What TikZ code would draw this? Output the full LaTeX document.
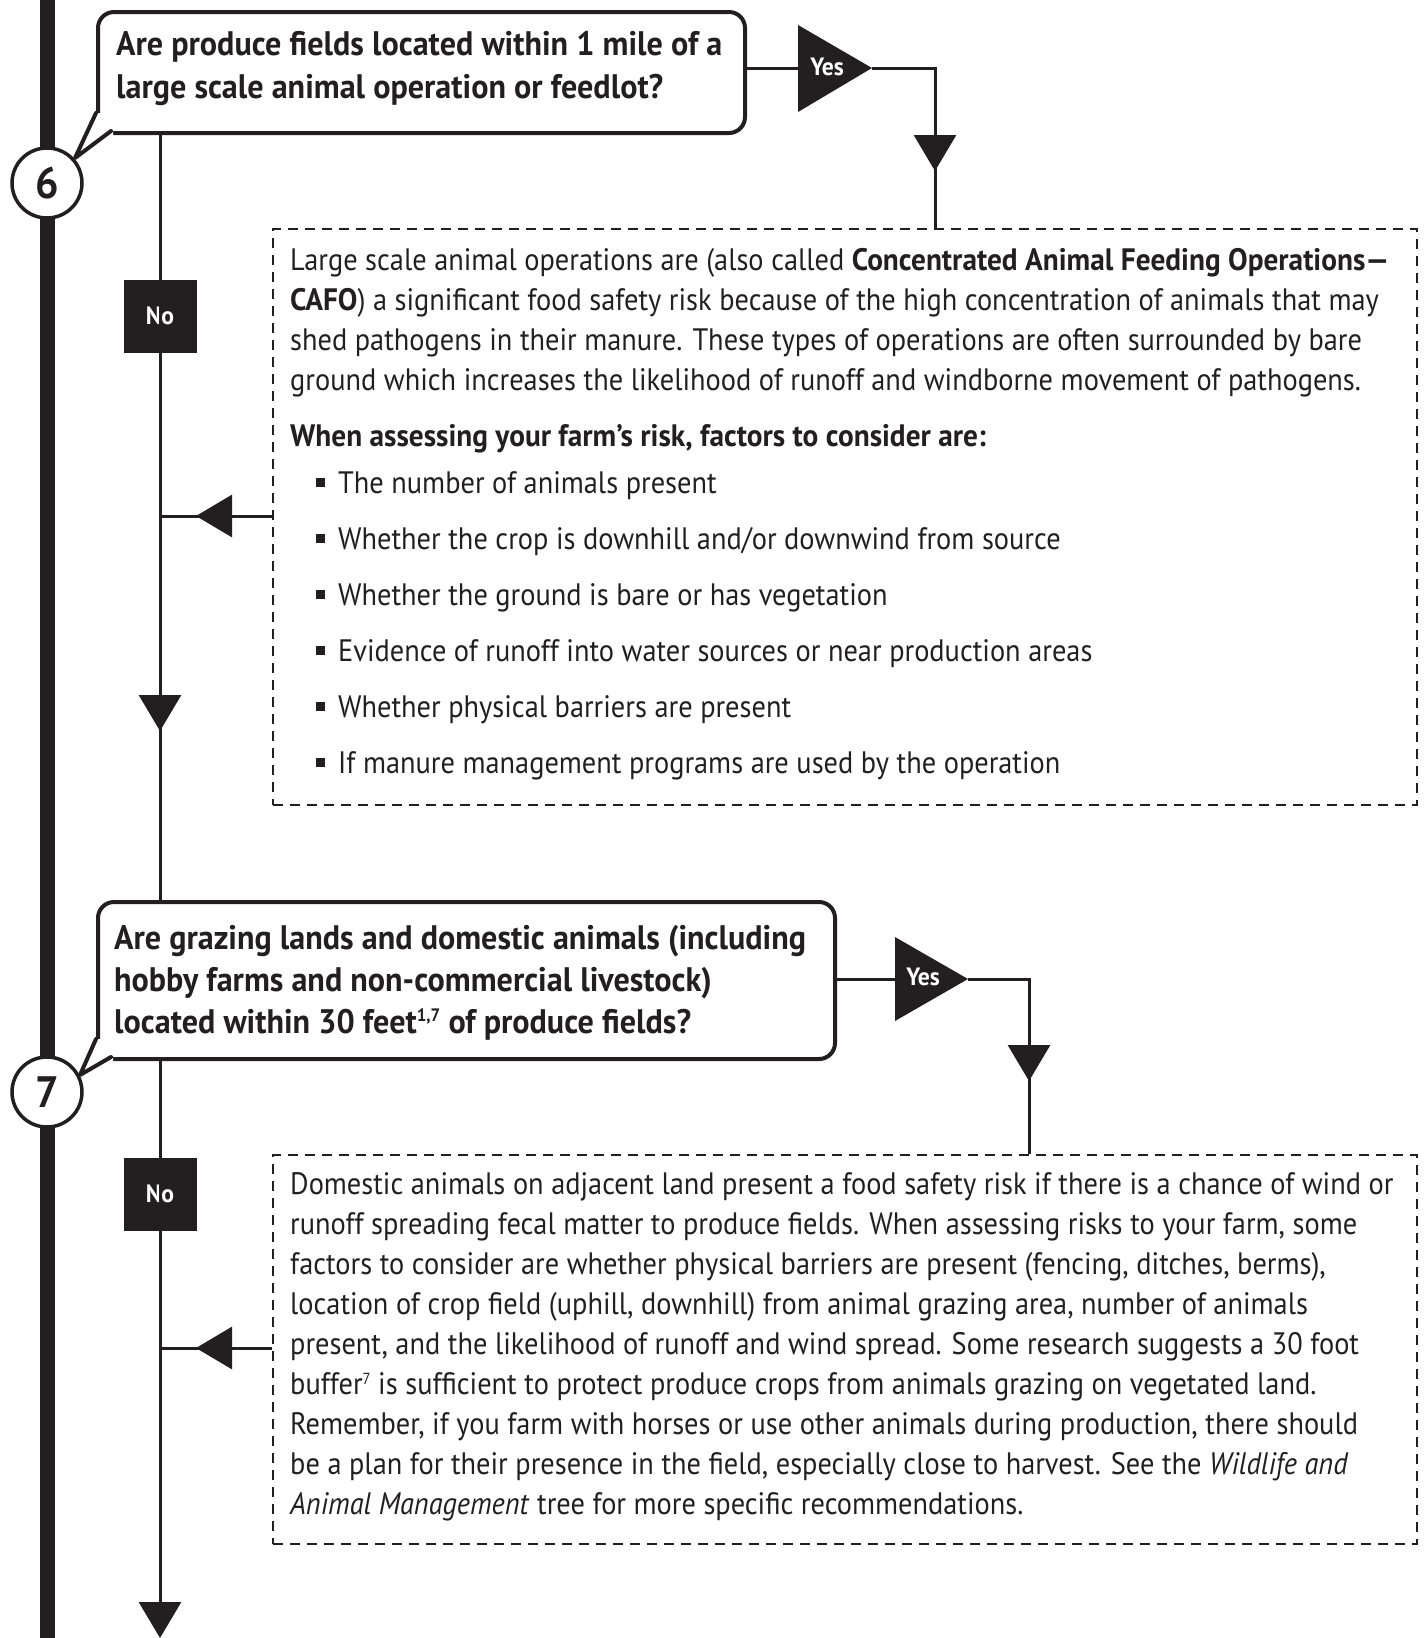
\documentclass[tikz,border=0pt]{standalone}
\usepackage{fontspec}
\setmainfont{PT Sans}[FakeStretch=0.915, BoldFeatures={FakeStretch=0.945}]
\usepackage{xcolor}
\usetikzlibrary{arrows.meta}
\definecolor{ink}{HTML}{231F20}

\begin{document}
\begin{tikzpicture}[x=1pt,y=-1pt,
  conn/.style={draw=ink, line width=3pt},
  tri/.style={draw=ink, line width=3pt, -{Triangle[length=36pt,width=42pt]}},
  qbox/.style={draw=ink, fill=white, line width=4pt, rounded corners=16pt, anchor=north west, inner sep=0},
  qtext/.style={text=ink, font=\bfseries\fontsize{34}{43}\selectfont, anchor=base west, inner sep=0},
  body/.style={text=ink, font=\fontsize{31}{40}\selectfont, anchor=base west, inner sep=0},
  stepnum/.style={circle, draw=ink, fill=white, line width=3.5pt, minimum size=70pt, inner sep=0, text=ink, font=\bfseries\fontsize{44}{44}\selectfont},
  nobox/.style={fill=ink, text=white, minimum size=73pt, inner sep=0, font=\bfseries\fontsize{25}{25}\selectfont},
  yeslbl/.style={text=white, inner sep=0, font=\bfseries\fontsize{25}{25}\selectfont},
  dashbox/.style={draw=ink, line width=2pt, dash pattern=on 10pt off 7pt, anchor=north west, inner sep=0}]

  \useasboundingbox (0,0) rectangle (1426,1638);

  % side bar
  \fill[ink] (40,0) rectangle (55,1638);

  % dashed text boxes
  \node[dashbox, minimum width=1144pt, minimum height=576pt] (cafo) at (272,228) {};
  \node[dashbox, minimum width=1144pt, minimum height=389pt] (pets) at (272,1154) {};

  % question 6
  \node[qbox, minimum width=647pt, minimum height=121pt] (q6) at (96,10) {};
  \fill[white] (93,113) -- (71,163) -- (113,135) -- (113,113) -- cycle;
  \draw[ink, line width=4pt, line join=round, line cap=round] (96,113) -- (75,158) -- (111,131);
  \foreach \ln [count=\i] in {{Are produce fields located within 1 mile of a},
    {large scale animal operation or feedlot?}}
    \node[qtext] (q6-\i) at (116,{55+43*(\i-1)}) {\ln};
  \node[stepnum] (n6) at (47,183) {6};

  % question 7
  \node[qbox, minimum width=737pt, minimum height=157pt] (q7) at (96,900) {};
  \fill[white] (93,1039) -- (76,1080) -- (113,1061) -- (113,1039) -- cycle;
  \draw[ink, line width=4pt, line join=round, line cap=round] (96,1039) -- (80,1075) -- (111,1057);
  \foreach \ln [count=\i] in {{Are grazing lands and domestic animals (including},
    {hobby farms and non-commercial livestock)},
    {located within 30 feet\raisebox{11.5pt}{\fontsize{18}{18}\selectfont 1,7} of produce fields?}}
    \node[qtext] (q7-\i) at (114,{949+42*(\i-1)}) {\ln};
  \node[stepnum] (n7) at (47,1092) {7};

  % yes / no marks
  \fill[ink] (798,25) -- (872,68) -- (798,112) -- cycle;
  \node[yeslbl] (yes6) at (827,67) {Yes};
  \fill[ink] (895,937) -- (968,979) -- (895,1021) -- cycle;
  \node[yeslbl] (yes7) at (923,977) {Yes};
  \node[nobox] (no6) at (160,316) {No};
  \node[nobox] (no7) at (160,1194) {No};

  % text of box 6
  \foreach \ln [count=\i] in {
    {Large scale animal operations are (also called \textbf{Concentrated Animal Feeding Operations—}},
    {\textbf{CAFO}) a significant food safety risk because of the high concentration of animals that may},
    {shed pathogens in their manure. These types of operations are often surrounded by bare},
    {ground which increases the likelihood of runoff and windborne movement of pathogens.}}
    \node[body] (cafo-\i) at (290,{270+40*(\i-1)}) {\ln};
  \node[body, font=\bfseries\fontsize{31}{40}\selectfont] (cafo-h) at (290,446) {When assessing your farm’s risk, factors to consider are:};
  \foreach \ln [count=\i] in {
    {The number of animals present},
    {Whether the crop is downhill and/or downwind from source},
    {Whether the ground is bare or has vegetation},
    {Evidence of runoff into water sources or near production areas},
    {Whether physical barriers are present},
    {If manure management programs are used by the operation}}
  {
    \fill[ink] (316,{493+56*(\i-1)-15}) rectangle (325,{493+56*(\i-1)-6});
    \node[body] (fac-\i) at (338,{493+56*(\i-1)}) {\ln};
  }

  % text of box 7
  \foreach \ln [count=\i] in {
    {Domestic animals on adjacent land present a food safety risk if there is a chance of wind or},
    {runoff spreading fecal matter to produce fields. When assessing risks to your farm, some},
    {factors to consider are whether physical barriers are present (fencing, ditches, berms),},
    {location of crop field (uphill, downhill) from animal grazing area, number of animals},
    {present, and the likelihood of runoff and wind spread. Some research suggests a 30 foot},
    {buffer\raisebox{10pt}{\fontsize{16}{16}\selectfont 7} is sufficient to protect produce crops from animals grazing on vegetated land.},
    {Remember, if you farm with horses or use other animals during production, there should},
    {be a plan for their presence in the field, especially close to harvest. See the \textit{Wildlife and}},
    {\textit{Animal Management} tree for more specific recommendations.}}
    \node[body] (pets-\i) at (290,{1194+40*(\i-1)}) {\ln};

  % connectors
  \draw[conn] (q6.east |- 0,68) -- (798,68);
  \draw[conn] (872,68) -| (cafo.north -| 935,0);
  \draw[tri] (935,135) -- (935,171);
  \draw[conn] (q6.south -| no6) -- (q7.north -| no6);
  \draw[tri] (160,695) -- (160,731);
  \coordinate (j6) at (160,516);
  \draw[conn] (cafo.west |- j6) -- (j6);
  \draw[tri] (232,516) -- (196,516);

  \draw[conn] (q7.east |- 0,979) -- (895,979);
  \draw[conn] (968,979) -| (pets.north -| 1029,0);
  \draw[tri] (1029,1045) -- (1029,1081);
  \draw[tri] (q7.south -| no7) -- (160,1638);
  \coordinate (j7) at (160,1348);
  \draw[conn] (pets.west |- j7) -- (j7);
  \draw[tri] (232,1348) -- (196,1348);
\end{tikzpicture}
\end{document}
